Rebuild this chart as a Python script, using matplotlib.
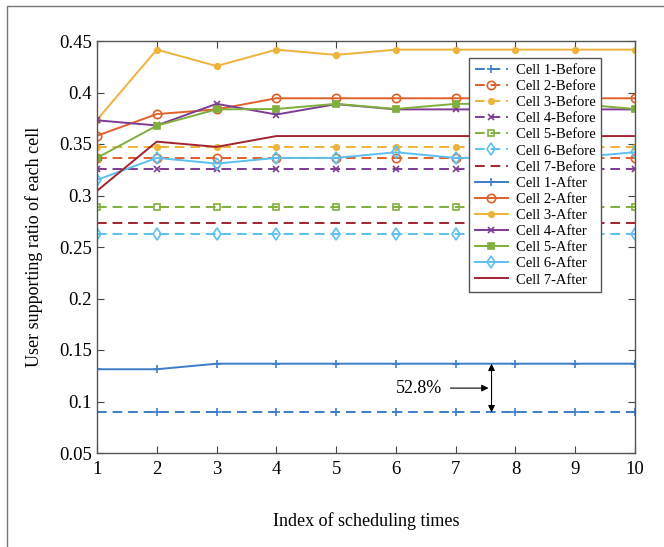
import matplotlib
matplotlib.use("Agg")
import matplotlib.pyplot as plt
from matplotlib.patches import Rectangle

plt.rcParams['font.family'] = ['Liberation Serif', 'DejaVu Serif']
plt.rcParams['mathtext.fontset'] = 'stix'

x = list(range(1, 11))
cells = ["Cell 1", "Cell 2", "Cell 3", "Cell 4", "Cell 5", "Cell 6", "Cell 7"]
colors = ["#3D7EC9", "#E0602A", "#EDB33A", "#7E3B93", "#7FAF3C", "#5CC0EE", "#A2242F"]

before = [0.0895, 0.3365, 0.3472, 0.326, 0.289, 0.2627, 0.2734]

after = [
    [0.1313, 0.1313, 0.1367, 0.1367, 0.1367, 0.1367, 0.1367, 0.1367, 0.1367, 0.1367],
    [0.358, 0.379, 0.3836, 0.3944, 0.3944, 0.3944, 0.3944, 0.3944, 0.3944, 0.3944],
    [0.3735, 0.4416, 0.4257, 0.4416, 0.4365, 0.4416, 0.4416, 0.4416, 0.4416, 0.4416],
    [0.373, 0.368, 0.389, 0.3786, 0.3887, 0.3836, 0.3836, 0.3836, 0.3836, 0.3836],
    [0.3365, 0.3678, 0.3836, 0.384, 0.389, 0.384, 0.389, 0.389, 0.389, 0.384],
    [0.3152, 0.3365, 0.331, 0.3365, 0.3365, 0.342, 0.3365, 0.3365, 0.337, 0.342],
    [0.3045, 0.3523, 0.3472, 0.3577, 0.3577, 0.3577, 0.3577, 0.3577, 0.3577, 0.3577],
]

# marker style per cell: (marker, size, filled)
mk_before = [("+", 6, False), ("o", 6, False), ("o", 4, True), ("x", 4, False),
             ("s", 4, False), ("d", 6, False), (None, 0, False)]
mk_after = [("+", 6, False), ("o", 6, False), ("o", 4, True), ("x", 4, False),
            ("s", 4, True), ("d", 6, False), (None, 0, False)]

fig = plt.figure(figsize=(6.64, 5.47), dpi=100)
fig.patches.append(Rectangle((7 / 664, -0.1), 1.2, 1 - 6 / 547 + 0.1, transform=fig.transFigure,
                             fill=False, edgecolor="#777777", linewidth=1.0))
ax = fig.add_axes([97 / 664, 1 - 453 / 547, 538 / 664, 412 / 547])

for i, c in enumerate(cells):
    m, s, f = mk_before[i]
    ax.plot(x, [before[i]] * len(x), linestyle=(0, (5, 3)), color=colors[i], linewidth=1.4,
            marker=m, markersize=s, markerfacecolor=colors[i] if f else "none",
            markeredgewidth=1.2, label=c + "-Before")
for i, c in enumerate(cells):
    m, s, f = mk_after[i]
    ax.plot(x, after[i], linestyle="-", color=colors[i], linewidth=1.4,
            marker=m, markersize=s, markerfacecolor=colors[i] if f else "none",
            markeredgewidth=1.2, label=c + "-After")

ax.set_xlim(1, 10)
ax.set_ylim(0.05, 0.45)
ax.set_xticks(x)
ax.set_yticks([0.05, 0.1, 0.15, 0.2, 0.25, 0.3, 0.35, 0.4, 0.45])
ax.set_yticklabels(["0.05", "0.1", "0.15", "0.2", "0.25", "0.3", "0.35", "0.4", "0.45"])
ax.tick_params(direction="in", top=True, right=True, labelsize=13.5, length=5, color="#444444")
ax.tick_params(axis="x", pad=6)
for sp in ax.spines.values():
    sp.set_color("#555555")
    sp.set_linewidth(1.0)

ax.set_xlabel("Index of scheduling times", fontsize=13, labelpad=24)
ax.set_ylabel("User supporting ratio of each cell", fontsize=13, labelpad=12)

leg = ax.legend(loc="upper right", bbox_to_anchor=(0.937, 0.959), borderaxespad=0,
                fontsize=10.5, frameon=True, fancybox=False, edgecolor="#555555", framealpha=1,
                handlelength=2.3, labelspacing=0.2, borderpad=0.4, handletextpad=0.5)
leg.get_frame().set_linewidth(1.0)

ax.annotate("", xy=(7.6, after[0][-1]), xytext=(7.6, before[0]),
            arrowprops=dict(arrowstyle="<|-|>", color="black", lw=0.8, mutation_scale=10,
                            shrinkA=0, shrinkB=0))
ax.annotate("52.8%", xy=(7.55, 0.113), xytext=(6.0, 0.113), fontsize=13, va="center",
            arrowprops=dict(arrowstyle="-|>", color="black", lw=0.8, mutation_scale=10,
                            shrinkA=4, shrinkB=0))

fig.savefig("out.png", dpi=100)
